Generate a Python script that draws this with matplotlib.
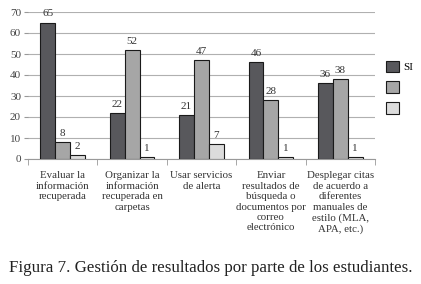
import matplotlib
matplotlib.use("Agg")
import matplotlib.pyplot as plt
import numpy as np

categories = ["Evaluar la\ninformación\nrecuperada",
              "Organizar la\ninformación\nrecuperada en\ncarpetas",
              "Usar servicios\nde alerta",
              "Enviar\nresultados de\nbúsqueda o\ndocumentos por\ncorreo\nelectrónico",
              "Desplegar citas\nde acuerdo a\ndiferentes\nmanuales de\nestilo (MLA,\nAPA, etc.)"]
series_names = ["SI", " ", "  "]
si_vals = [65, 22, 21, 46, 36]
no_vals = [8, 52, 47, 28, 38]
other_vals = [2, 1, 7, 1, 1]
yticks = [0, 10, 20, 30, 40, 50, 60, 70]

plt.rcParams['font.family'] = ['Liberation Serif', 'DejaVu Serif']

fig = plt.figure(figsize=(4.21, 2.84), dpi=100)
ax = fig.add_axes([28/421, 1-159/284, (375-28)/421, (159-12)/284])

colors = ["#58585c", "#a6a6a6", "#dcdcdc"]
w = 0.215
x = np.arange(len(categories))
for i, (vals, c, name) in enumerate(zip([si_vals, no_vals, other_vals], colors, series_names)):
    bars = ax.bar(x + (i-1)*w, vals, w, color=c, edgecolor="#1a1a1a", linewidth=0.8, label=name, zorder=3)
    for b, v in zip(bars, vals):
        ax.text(b.get_x()+b.get_width()/2, v + 2.0, str(v), ha="center", va="bottom",
                fontsize=8, color="#333333")

ax.set_xlim(-0.5, len(categories)-0.5)
ax.set_ylim(0, 70)
ax.set_yticks(yticks)
ax.set_yticklabels([str(t) for t in yticks], fontsize=8, color="#444444")
ax.yaxis.grid(True, color="#b0b0b0", linewidth=0.8, zorder=0)
ax.set_axisbelow(True)
for s in ["top", "right", "left"]:
    ax.spines[s].set_visible(False)
ax.spines["bottom"].set_color("#999999")
ax.tick_params(axis="y", length=3, color="#999999", pad=2)
ax.set_xticks(x)
ax.set_xticklabels(categories, fontsize=7.8, color="#333333", linespacing=1.2, va="top")
ax.tick_params(axis="x", length=0, pad=9)
ax.set_xticks(np.arange(len(categories)+1)-0.5, minor=True)
ax.tick_params(axis="x", which="minor", length=4, color="#999999")

leg = ax.legend(loc="upper left", bbox_to_anchor=(1.02, 0.70), frameon=False, fontsize=8,
                handlelength=1.1, handleheight=1.2, labelspacing=0.85, handletextpad=0.4,
                borderaxespad=0)

fig.text(0.5, 1-268/284, "Figura 7. Gestión de resultados por parte de los estudiantes.",
         ha="center", va="center", fontsize=12.2, color="#222222")

fig.savefig("out.png", dpi=100)
